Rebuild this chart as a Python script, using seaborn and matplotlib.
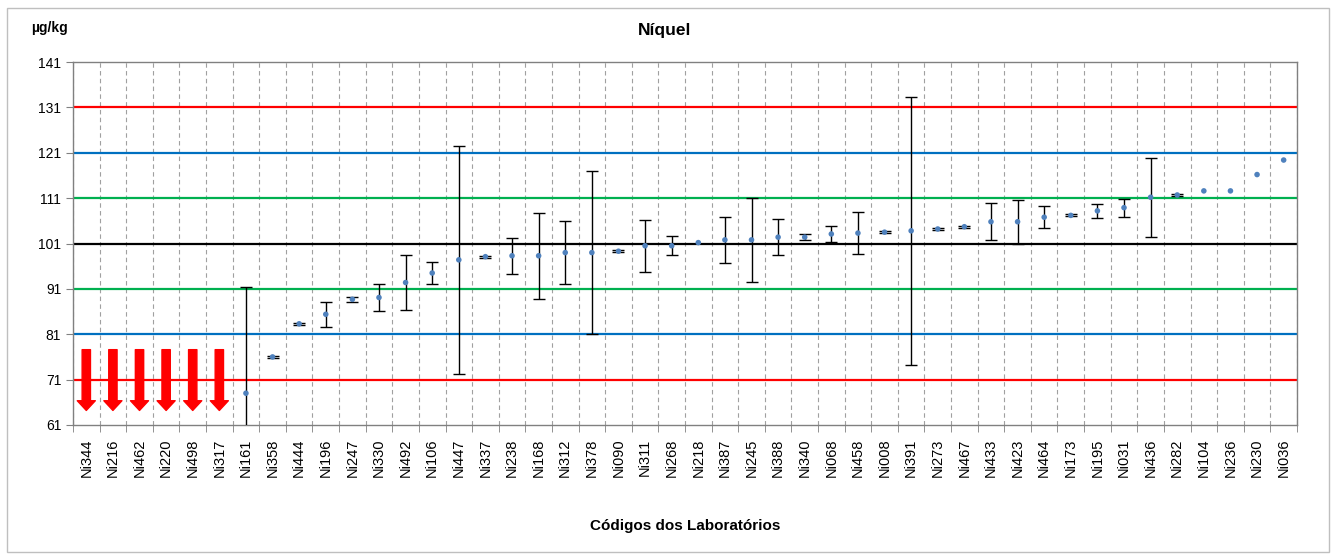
import matplotlib

matplotlib.use("Agg")
import matplotlib.pyplot as plt
import numpy as np
import pandas as pd
import seaborn as sns
from matplotlib.patches import Rectangle
from matplotlib.ticker import FixedLocator, NullFormatter

# lab codes in plot order (first six are off-scale, shown as arrows)
labs = [
    "Ni344", "Ni216", "Ni462", "Ni220", "Ni498", "Ni317", "Ni161", "Ni358",
    "Ni444", "Ni196", "Ni247", "Ni330", "Ni492", "Ni106", "Ni447", "Ni337",
    "Ni238", "Ni168", "Ni312", "Ni378", "Ni090", "Ni311", "Ni268", "Ni218",
    "Ni387", "Ni245", "Ni388", "Ni340", "Ni068", "Ni458", "Ni008", "Ni391",
    "Ni273", "Ni467", "Ni433", "Ni423", "Ni464", "Ni173", "Ni195", "Ni031",
    "Ni436", "Ni282", "Ni104", "Ni236", "Ni230", "Ni036",
]
off_scale = ["Ni344", "Ni216", "Ni462", "Ni220", "Ni498", "Ni317"]

results = [
    None, None, None, None, None, None, 68.0, 76.0,
    83.3, 85.4, 88.7, 89.1, 92.4, 94.5, 97.4, 98.1,
    98.3, 98.3, 99.0, 99.0, 99.3, 100.5, 100.5, 101.2,
    101.8, 101.8, 102.4, 102.4, 103.1, 103.3, 103.5, 103.8,
    104.2, 104.7, 105.8, 105.8, 106.8, 107.2, 108.2, 108.9,
    111.2, 111.7, 112.6, 112.6, 116.2, 119.4,
]
uncert = [
    None, None, None, None, None, None, 23.5, 0.3,
    0.2, 2.8, 0.5, 3.0, 6.1, 2.5, 25.2, 0.2,
    4.0, 9.5, 7.0, 18.0, 0.2, 5.7, 2.1, 0.0,
    5.0, 9.2, 4.0, 0.7, 1.8, 4.7, 0.2, 29.6,
    0.3, 0.2, 4.1, 4.8, 2.4, 0.2, 1.5, 2.0,
    8.7, 0.3, 0.0, 0.0, 0.0, 0.0,
]

limits = [(71, "#FF0000"), (81, "#0070C0"), (91, "#00B050"), (101, "#000000"),
          (111, "#00B050"), (121, "#0070C0"), (131, "#FF0000")]
yticks = [61, 71, 81, 91, 101, 111, 121, 131, 141]

df = pd.DataFrame({"lab": labs, "value": results, "u": uncert})
df["pos"] = np.arange(len(df))
df["value"] = df["value"].astype(float)
df["u"] = df["u"].astype(float)

plt.rcParams["font.family"] = ["Liberation Sans", "DejaVu Sans"]

fig = plt.figure(figsize=(13.32, 5.54), dpi=100)
ax = fig.add_axes([0.0548, 0.2329, 0.9189, 0.6551])

for y, color in limits:
    ax.axhline(y, color=color, lw=1.6, zorder=2)

valid = df.dropna(subset=["value"])
with_err = valid[valid["u"] > 0]
ax.errorbar(with_err["pos"], with_err["value"], yerr=with_err["u"], fmt="none",
            ecolor="black", elinewidth=1.0, capsize=4, capthick=1.0, zorder=3)
sns.scatterplot(data=valid, x="pos", y="value", ax=ax, color="#4F81BD",
                s=16, edgecolor="none", zorder=4, legend=False)

for lab in off_scale:
    i = labs.index(lab)
    ax.annotate("", xy=(i, 64.2), xytext=(i, 77.6),
                arrowprops=dict(facecolor="#FF0000", edgecolor="#FF0000",
                                width=6, headwidth=13, headlength=7),
                zorder=5)

ax.set_xlim(-0.5, len(labs) - 0.5)
ax.set_ylim(61, 141)
ax.set_yticks(yticks)
ax.set_yticklabels([str(t) for t in yticks], fontsize=10)
ax.set_xticks(df["pos"])
ax.set_xticklabels(labs, rotation=90, fontsize=10.5)
ax.tick_params(axis="x", which="major", length=0, pad=10)
ax.xaxis.set_minor_locator(FixedLocator(np.arange(-0.5, len(labs), 1.0)))
ax.xaxis.set_minor_formatter(NullFormatter())
ax.tick_params(axis="x", which="minor", length=5, color="#808080", direction="out")
ax.tick_params(axis="y", length=5, color="#808080", direction="out")
ax.grid(axis="x", which="minor", color="#A0A0A0", ls=(0, (4, 3)), lw=0.8)
ax.grid(axis="x", which="major", visible=False)
ax.grid(axis="y", visible=False)
for spine in ax.spines.values():
    spine.set_color("#808080")
    spine.set_linewidth(1.0)

ax.set_xlabel("Códigos dos Laboratórios", fontsize=11, fontweight="bold", labelpad=30)
ax.set_ylabel("")
fig.text(0.499, 0.945, "Níquel", ha="center", va="center", fontsize=12.5, fontweight="bold")
fig.text(0.037, 0.949, "µg/kg", ha="center", va="center", fontsize=10, fontweight="bold")

fig.patches.append(Rectangle((7 / 1332, 2 / 554), 1322 / 1332, 544 / 554,
                             transform=fig.transFigure, fill=False,
                             edgecolor="#BFBFBF", lw=1.0))

fig.savefig("out.png", dpi=100)
